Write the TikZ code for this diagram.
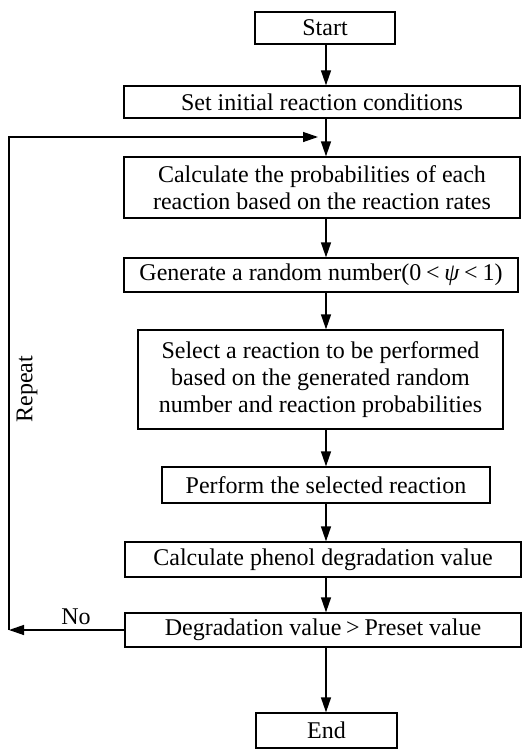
\documentclass[tikz,border=0pt]{standalone}
\usepackage{fontspec}
\setmainfont{Liberation Serif}
\usetikzlibrary{arrows.meta}
\newcommand{\lt}{\kern0.2em<\kern0.2em}
\newcommand{\gt}{\kern0.2em>\kern0.2em}
\begin{document}
\begin{tikzpicture}[x=1pt,y=-1pt,
  box/.style={draw,line width=1.3pt,inner sep=0pt,align=center,
    font=\fontsize{24}{27}\selectfont},
  arr/.style={line width=1.3pt,-{Triangle[length=15pt,width=10pt]}},
  lbl/.style={font=\fontsize{24}{27}\selectfont,inner sep=0pt}]
\useasboundingbox (0,0) rectangle (525,752);
\coordinate (spine) at (326,0);
\node[box,minimum width=140pt,minimum height=32pt] (start) at (325,28) {Start};
\node[box,minimum width=396pt,minimum height=32pt] (set) at (322,102) {Set initial reaction conditions};
\node[box,minimum width=396pt,minimum height=61pt] (calc) at (322,187.5) {Calculate the probabilities of each\\reaction based on the reaction rates};
\node[box,minimum width=394pt,minimum height=34pt] (gen) at (321,275) {Generate a random number(0\lt{\itshape ψ}\lt1)};
\node[box,minimum width=365pt,minimum height=99pt] (sel) at (320.5,379.5) {Select a reaction to be performed\\based on the generated random\\number and reaction probabilities};
\node[box,minimum width=328pt,minimum height=36pt] (perf) at (326,485) {Perform the selected reaction};
\node[box,minimum width=396pt,minimum height=35pt] (phen) at (323,559.5) {Calculate phenol degradation value};
\node[box,minimum width=396pt,minimum height=34pt] (degr) at (323,630) {Degradation value\gt Preset value};
\node[box,minimum width=141pt,minimum height=35pt] (end) at (326.5,730.5) {End};
\coordinate (cBL) at (9,630);
\coordinate (cTL) at (9,137);
\coordinate (loopEnd) at (318,137);
\draw[arr] (start.south -| spine) -- (set.north -| spine);
\draw[arr] (set.south -| spine) -- (calc.north -| spine);
\draw[arr] (calc.south -| spine) -- (gen.north -| spine);
\draw[arr] (gen.south -| spine) -- (sel.north -| spine);
\draw[arr] (sel.south -| spine) -- (perf.north -| spine);
\draw[arr] (perf.south -| spine) -- (phen.north -| spine);
\draw[arr] (phen.south -| spine) -- (degr.north -| spine);
\draw[arr] (degr.south -| spine) -- (end.north -| spine);
\draw[arr] (degr.west) -- (cBL);
\draw[arr] (cBL) -- (cTL) -- (loopEnd);
\node[lbl] (no) at (76,617) {No};
\node[lbl,rotate=90] (rep) at (27,389) {Repeat};
\end{tikzpicture}
\end{document}
